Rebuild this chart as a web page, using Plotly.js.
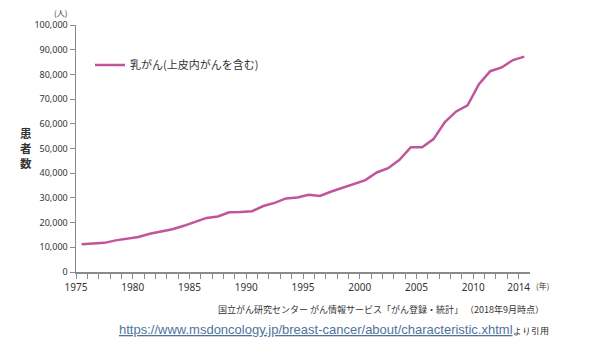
<!DOCTYPE html>
<html><head><meta charset="utf-8">
<script src="https://cdn.plot.ly/plotly-3.0.1.min.js"></script>
<style>html,body{margin:0;padding:0;background:#fff}#chart{width:600px;height:362px}</style>
</head><body><div id="chart"></div>
<script>
const years = [1975,1976,1977,1978,1979,1980,1981,1982,1983,1984,1985,1986,1987,1988,1989,1990,1991,1992,1993,1994,1995,1996,1997,1998,1999,2000,2001,2002,2003,2004,2005,2006,2007,2008,2009,2010,2011,2012,2013,2014];
const patients = [11200,11400,11800,12800,13600,14200,15500,16400,17300,18700,20300,21900,22500,24200,24300,24600,26700,28000,29800,30200,31300,30800,32600,34200,35600,37200,40300,42000,45400,50500,50500,53800,60700,65000,67500,76000,81300,82800,85800,87200];
const seriesName = '乳がん(上皮内がんを含む)';
const tickYears = [1975,1980,1985,1990,1995,2000,2005,2010,2014];
const yTicks = [0,10000,20000,30000,40000,50000,60000,70000,80000,90000,100000];
const yTickText = ['0','10,000','20,000','30,000','40,000','50,000','60,000','70,000','80,000','90,000','100,000'];

// year ticks sit at the start of each year's interval; points at its centre
const allTickVals = [], allTickText = [];
for (let y = 1975; y <= 2014; y++) {
  allTickVals.push(y - 0.5);
  allTickText.push(tickYears.includes(y) ? String(y) : '');
}

const L = 76, R = 530, T = 25, B = 272;
const px = x => (x - L) / (R - L);
const py = y => (B - y) / (B - T);

const FONT = 'Noto Sans, Noto Sans CJK JP, sans-serif';
const JP = 'Noto Sans CJK JP, sans-serif';

const traces = [{
  x: years, y: patients, type: 'scatter', mode: 'lines', name: seriesName,
  line: {color: '#c2549b', width: 2.5}, hoverinfo: 'skip'
}];

const layout = {
  width: 600, height: 362,
  margin: {l: L, r: 600 - R, t: T, b: 362 - B},
  paper_bgcolor: '#fff', plot_bgcolor: '#fff',
  showlegend: true,
  legend: {x: px(90), y: py(65), xanchor: 'left', yanchor: 'middle', bgcolor: 'rgba(0,0,0,0)',
           font: {family: JP, size: 11, color: '#333'}},
  xaxis: {
    range: [1974.5, 2014.5], showgrid: false, zeroline: false,
    showline: true, linecolor: '#8a8a8a', linewidth: 1.5,
    tickmode: 'array', tickvals: allTickVals, ticktext: allTickText,
    ticks: 'outside', ticklen: 5, tickwidth: 1, tickcolor: '#8a8a8a',
    tickfont: {family: FONT, size: 10, color: '#333'}, fixedrange: true
  },
  yaxis: {
    range: [0, 100000], showgrid: false, zeroline: false,
    showline: true, linecolor: '#8a8a8a', linewidth: 1.5,
    tickmode: 'array', tickvals: yTicks, ticktext: yTickText,
    ticks: 'outside', ticklen: 5, tickwidth: 1, tickcolor: '#8a8a8a',
    tickfont: {family: FONT, size: 9, color: '#333'}, fixedrange: true
  },
  annotations: [
    {text: '(人)', xref: 'paper', yref: 'paper', x: px(60), y: py(13), showarrow: false,
     xanchor: 'center', yanchor: 'middle', font: {family: JP, size: 8, color: '#333'}},
    {text: '患<br>者<br>数', xref: 'paper', yref: 'paper', x: px(26), y: py(148), showarrow: false,
     xanchor: 'center', yanchor: 'middle', font: {family: JP, size: 11.5, color: '#333', weight: 'bold'}},
    {text: '(年)', xref: 'paper', yref: 'paper', x: px(542), y: py(285), showarrow: false,
     xanchor: 'center', yanchor: 'middle', font: {family: JP, size: 8, color: '#333'}},
    {text: '国立がん研究センター がん情報サービス「がん登録・統計」 （2018年9月時点）', xref: 'paper', yref: 'paper',
     x: px(546), y: py(309), showarrow: false, xanchor: 'right', yanchor: 'middle',
     font: {family: JP, size: 9, color: '#333'}},
    {text: '<u>https://www.msdoncology.jp/breast-cancer/about/characteristic.xhtml</u><span style="color:#222;font-size:9px">より引用</span>',
     xref: 'paper', yref: 'paper', x: px(117), y: py(329), showarrow: false, xanchor: 'left', yanchor: 'middle',
     font: {family: 'Liberation Sans, Arial, sans-serif', size: 13, color: '#4f739c'}}
  ]
};

Plotly.newPlot('chart', traces, layout, {displayModeBar: false, staticPlot: true});
</script></body></html>
